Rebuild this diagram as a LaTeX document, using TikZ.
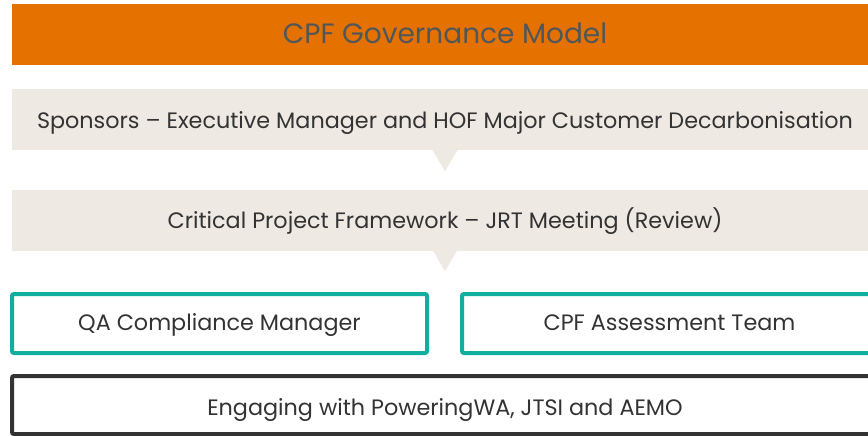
\documentclass[tikz,border=0pt]{standalone}
\usepackage{fontspec}
\setmainfont{Poppins}
\usetikzlibrary{calc}
\definecolor{cporange}{HTML}{E57200}
\definecolor{cpband}{HTML}{EFE9E3}
\definecolor{cpteal}{HTML}{0FAE9E}
\definecolor{cpdark}{HTML}{333333}
\definecolor{cptitle}{HTML}{51565A}
\definecolor{cptext}{HTML}{333333}
\tikzset{
  titlebar/.style={fill=cporange, draw=none, minimum width=866pt, minimum height=61pt, inner sep=0pt, text=cptitle, font=\fontsize{28}{32}\selectfont, text height=17.6pt, text depth=0pt},
  band/.style={fill=cpband, draw=none, minimum width=866pt, minimum height=61pt, inner sep=0pt, text=cptext, font=\fontsize{22.3}{26}\selectfont, text depth=0pt},
  tealbox/.style={draw=cpteal, line width=4pt, rounded corners=2pt, fill=white, minimum width=415pt, minimum height=59pt, inner sep=0pt, text=cptext, font=\fontsize{22.3}{26}\selectfont, text height=14.4pt, text depth=0pt},
  darkbox/.style={draw=cpdark, line width=4pt, rounded corners=2pt, fill=white, minimum width=866pt, minimum height=58pt, inner sep=0pt, text=cptext, font=\fontsize{22.3}{26}\selectfont, text height=21pt, text depth=0pt},
  notch/.style={fill=cpband, draw=none}
}
\begin{document}
\begin{tikzpicture}[x=1pt,y=-1pt]
\clip (0,0) rectangle (868,436);
\fill[white] (0,0) rectangle (868,436);
\node[titlebar] (title) at (445,34.5) {CPF Governance Model};
\node[band, text height=17.6pt] (spons) at (445,119.5) {Sponsors – Executive Manager and HOF Major Customer Decarbonisation};
\node[band, text height=16.6pt] (crit) at (445,220) {Critical Project Framework – JRT Meeting (Review)};
\fill[notch] ($(spons.south)+(-12.5,0)$) -- ($(spons.south)+(12.5,0)$) -- ($(spons.south)+(0,21)$) -- cycle;
\fill[notch] ($(crit.south)+(-12,0)$) -- ($(crit.south)+(12,0)$) -- ($(crit.south)+(0,20.5)$) -- cycle;
\node[tealbox] (qa) at (219.5,323.5) {QA Compliance Manager};
\node[tealbox] (team) at (669.5,323.5) {CPF Assessment Team};
\node[darkbox] (eng) at (445,405) {Engaging with PoweringWA, JTSI and AEMO};
\end{tikzpicture}
\end{document}
